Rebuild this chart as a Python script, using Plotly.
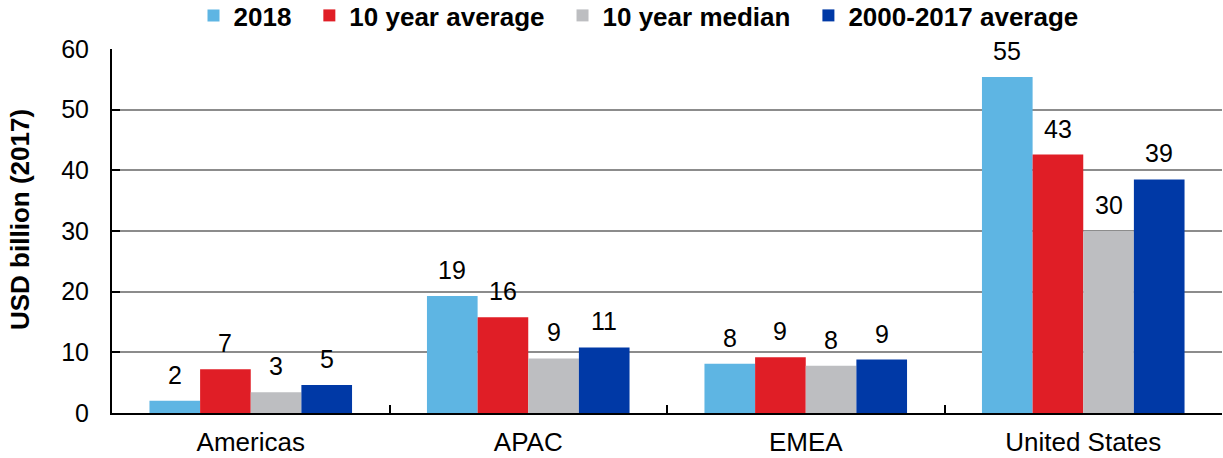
import plotly.graph_objects as go

categories = ["Americas", "APAC", "EMEA", "United States"]
series_names = ["2018", "10 year average", "10 year median", "2000-2017 average"]
v2018 = [2.0, 19.3, 8.1, 55.4]
v10avg = [7.2, 15.8, 9.2, 42.6]
v10med = [3.4, 9.0, 7.8, 30.0]
v0017 = [4.6, 10.8, 8.8, 38.5]
labels2018 = ["2", "19", "8", "55"]
labels10avg = ["7", "16", "9", "43"]
labels10med = ["3", "9", "8", "30"]
labels0017 = ["5", "11", "9", "39"]
y_title = "USD billion (2017)"

colors = ["#5EB5E3", "#E01E26", "#BDBEC1", "#0039A6"]
font_family = "Liberation Sans, Arial, sans-serif"
FS = 25

bargap = 0.27
n_series = 4
bar_w = (1 - bargap) / n_series

fig = go.Figure()
all_vals = [v2018, v10avg, v10med, v0017]
all_labs = [labels2018, labels10avg, labels10med, labels0017]
for si, (name, vals, labs, col) in enumerate(zip(series_names, all_vals, all_labs, colors)):
    fig.add_trace(go.Bar(
        name=name + "\u2002", x=categories, y=vals,
        marker=dict(color=col, line=dict(width=0)),
    ))
    off = (si - (n_series - 1) / 2) * bar_w
    for ci, (v, t) in enumerate(zip(vals, labs)):
        fig.add_annotation(x=ci + off, y=v, xref="x", yref="y", text=t, showarrow=False,
                           yanchor="bottom", yshift=10,
                           font=dict(family=font_family, size=FS, color="#000000"))

plot_left, plot_right, plot_top, plot_bottom = 112, 1222, 49, 413
plot_w = plot_right - plot_left
plot_h = plot_bottom - plot_top
leg_center_px = 645

fig.add_annotation(text=y_title, textangle=-90, showarrow=False,
                   xref="paper", yref="paper",
                   x=(20 - plot_left) / plot_w, y=(plot_bottom - 220) / plot_h,
                   xanchor="center", yanchor="middle",
                   font=dict(family=font_family, size=26, color="#000000", weight="bold"))

fig.update_layout(
    width=1223, height=458,
    barmode="group", bargap=bargap, bargroupgap=0,
    paper_bgcolor="white", plot_bgcolor="white",
    margin=dict(l=plot_left, r=1223 - plot_right, t=plot_top, b=458 - plot_bottom, autoexpand=False),
    font=dict(family=font_family, size=FS, color="#000000"),
    legend=dict(orientation="h", xref="paper", x=(leg_center_px - plot_left) / plot_w,
                xanchor="center", yref="paper", y=1 + (plot_top + 8) / plot_h,
                yanchor="top", traceorder="normal",
                font=dict(family=font_family, size=26, color="#000000", weight="bold"),
                itemwidth=30),
)
fig.update_yaxes(range=[0, 60], dtick=10, showgrid=True, gridcolor="#8C8C8C", gridwidth=1.5,
                 showline=True, linecolor="#000000", linewidth=2,
                 ticks="inside", ticklen=8, tickcolor="#000000", tickwidth=2,
                 tickfont=dict(size=FS), zeroline=False, automargin=False, ticklabelstandoff=16)
fig.update_xaxes(showline=True, linecolor="#000000", linewidth=2, automargin=False,
                 ticks="inside", tickson="boundaries", ticklen=8, tickcolor="#000000", tickwidth=2,
                 tickfont=dict(size=26), ticklabelstandoff=5)

fig.write_html("out.html", config={"displayModeBar": False},
               post_script="document.body.style.margin='0';document.body.style.padding='0';")
